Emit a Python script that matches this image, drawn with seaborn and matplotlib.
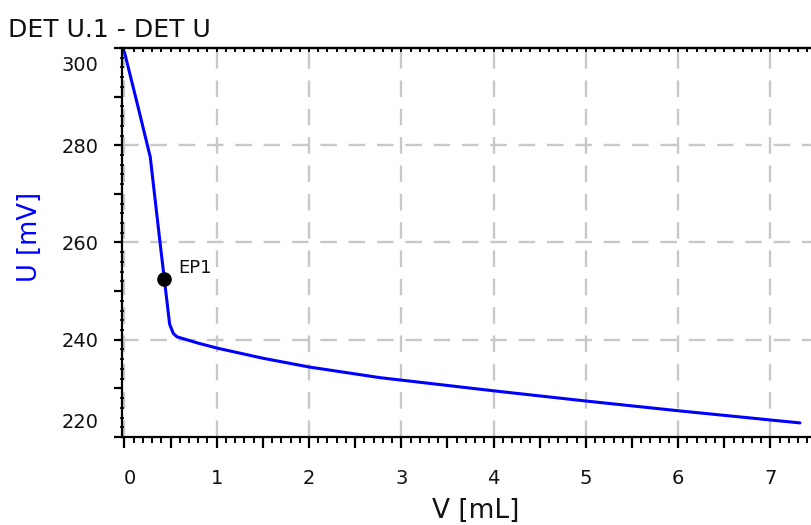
import numpy as np
import pandas as pd
import matplotlib
matplotlib.use("Agg")
import matplotlib.pyplot as plt
import matplotlib.ticker as mticker
import matplotlib.transforms as mtransforms
import seaborn as sns

# Titration curve (volume added vs. potential)
volume_ml = [0.00, 0.14, 0.28, 0.38, 0.49, 0.53, 0.57, 0.80, 1.00, 1.50, 2.00,
             2.77, 3.00, 4.00, 5.00, 6.00, 7.00, 7.32]
potential_mv = [299.2, 288.5, 277.6, 261.0, 243.2, 241.3, 240.6, 239.3, 238.3,
                236.2, 234.4, 232.2, 231.7, 229.5, 227.4, 225.4, 223.5, 222.9]

# Equivalence point
ep_label = "EP1"
ep_volume = 0.43
ep_potential = 252.4

title = "DET U.1 - DET U"
x_label = "V [mL]"
y_label = "U [mV]"

sns.set_style("white")
plt.rcParams["font.family"] = ["DejaVu Sans"]
plt.rcParams.update({"text.color": "#111111", "axes.labelcolor": "#111111",
                     "xtick.color": "black", "ytick.color": "black",
                     "xtick.labelcolor": "#111111", "ytick.labelcolor": "#111111"})

fig = plt.figure(figsize=(8.12, 5.25), dpi=100)
W, H = 812, 525
ax = fig.add_axes([122 / W, (H - 437) / H, (W - 122) / W, (437 - 48) / H])

df = pd.DataFrame({"V": volume_ml, "U": potential_mv})
sns.lineplot(data=df, x="V", y="U", ax=ax, color="#0000ff", linewidth=2.2,
             sort=False, zorder=3)
ax.plot([ep_volume], [ep_potential], "o", color="black", markersize=9.5, zorder=4)
ax.annotate(ep_label, (ep_volume, ep_potential), xytext=(10, 5),
            textcoords="offset points", fontsize=13, va="baseline", ha="left")

ax.set_xlim(-0.026, 7.45)
ax.set_ylim(220, 300)

# spines
ax.spines["right"].set_visible(False)
for side in ["left", "bottom", "top"]:
    ax.spines[side].set_color("black")
    ax.spines[side].set_linewidth(1.6)

# x ticks: labelled every 1, long ticks every 0.5, short ticks every 0.1
ax.xaxis.set_major_locator(mticker.MultipleLocator(0.5))
ax.xaxis.set_minor_locator(mticker.MultipleLocator(0.1))
ax.xaxis.set_major_formatter(mticker.FuncFormatter(
    lambda v, p: f"{int(round(v))}" if abs(v - round(v)) < 1e-6 else ""))
ax.tick_params(axis="x", which="major", direction="out", length=8, width=1.6,
               labelsize=14, pad=15, bottom=True)
ax.tick_params(axis="x", which="minor", direction="out", length=4, width=1.4,
               bottom=True)

# y ticks: labelled every 20, long ticks every 10, short ticks every 2
ax.yaxis.set_major_locator(mticker.MultipleLocator(10))
ax.yaxis.set_minor_locator(mticker.MultipleLocator(2))
ax.yaxis.set_major_formatter(mticker.FuncFormatter(
    lambda v, p: f"{int(round(v))}" if int(round(v)) % 20 == 0 else ""))
ax.tick_params(axis="y", which="major", direction="out", length=6, width=1.6,
               labelsize=14, pad=11, left=True)
ax.tick_params(axis="y", which="minor", direction="inout", length=3, width=1.2,
               left=True)

# top axis with small inward ticks
top = ax.secondary_xaxis("top")
top.xaxis.set_major_locator(mticker.MultipleLocator(1))
top.xaxis.set_minor_locator(mticker.MultipleLocator(0.1))
top.tick_params(which="both", direction="in", length=3, width=1.4,
                labelleft=False, labeltop=False)
top.spines["top"].set_linewidth(1.6)

# dashed grid at labelled values only
ax.grid(True, which="major", color="#c8c8c8", linestyle=(0, (7, 5)), linewidth=1.7)
fig.canvas.draw()
for t in ax.xaxis.get_major_ticks():
    v = t.get_loc()
    t.gridline.set_visible(abs(v - round(v)) < 1e-6)
for t in ax.yaxis.get_major_ticks():
    v = t.get_loc()
    t.gridline.set_visible(int(round(v)) % 20 == 0 and 220 < v < 300)

# keep the end labels inside the frame
for t in ax.yaxis.get_major_ticks():
    v = int(round(t.get_loc()))
    if v == 300:
        t.label1.set_transform(t.label1.get_transform() +
                               mtransforms.ScaledTranslation(0, -0.16, fig.dpi_scale_trans))
    if v == 220:
        t.label1.set_transform(t.label1.get_transform() +
                               mtransforms.ScaledTranslation(0, 0.16, fig.dpi_scale_trans))
for t in ax.xaxis.get_major_ticks():
    if abs(t.get_loc()) < 1e-6:
        t.label1.set_transform(t.label1.get_transform() +
                               mtransforms.ScaledTranslation(0.05, 0, fig.dpi_scale_trans))

ax.set_xlabel(x_label, fontsize=19)
ax.set_ylabel(y_label, fontsize=18.5, color="#0000ff")
ax.xaxis.set_label_coords((476 - 122) / 690, (437 - 498) / 389)
ax.yaxis.set_label_coords((43 - 122) / 690, (437 - 237) / 389)

fig.text(8 / W, 1 - 30 / H, title, fontsize=18, ha="left", va="center")

fig.savefig("out.png", dpi=100)
